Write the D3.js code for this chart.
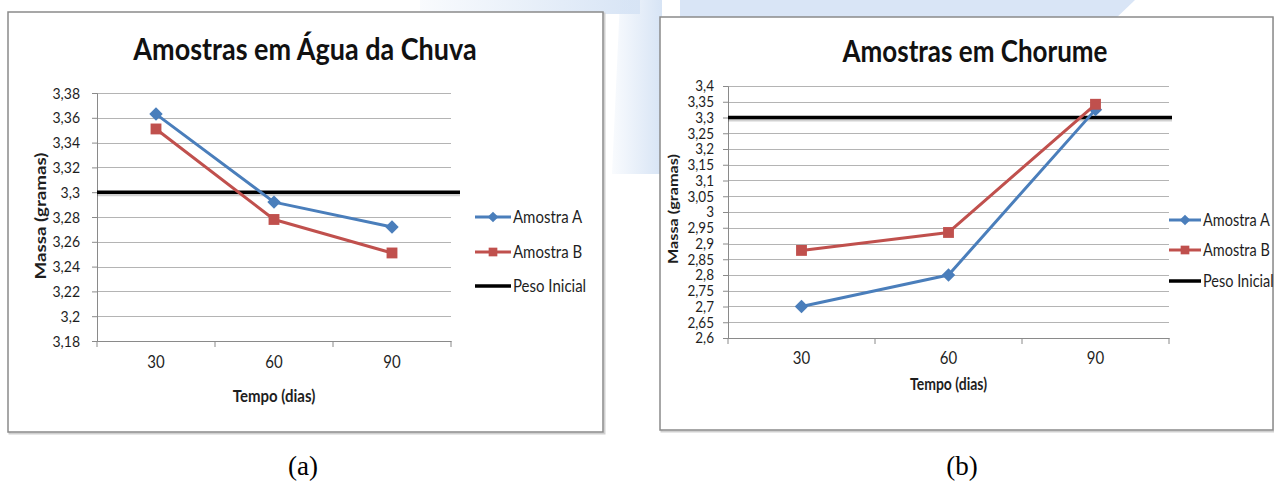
<!DOCTYPE html>
<html><head><meta charset="utf-8">
<script src="https://cdn.jsdelivr.net/npm/d3@7"></script>
<style>
html,body{margin:0;padding:0;background:#fff;}
svg{display:block;}
</style></head>
<body>
<svg id="c" width="1274" height="483"></svg>
<script>
// ---------- DATA ----------
const categories = ["30", "60", "90"];
const seriesNames = ["Amostra A", "Amostra B", "Peso Inicial"];

const chuvaTitle = "Amostras em Água da Chuva";
const chuvaA = [3.363, 3.292, 3.272];
const chuvaB = [3.351, 3.278, 3.251];
const chuvaPeso = 3.30;
const chuvaTicks = [3.18, 3.20, 3.22, 3.24, 3.26, 3.28, 3.30, 3.32, 3.34, 3.36, 3.38];

const chorumeTitle = "Amostras em Chorume";
const chorumeA = [2.70, 2.80, 3.325];
const chorumeB = [2.878, 2.935, 3.342];
const chorumePeso = 3.30;
const chorumeTicks = [2.60, 2.65, 2.70, 2.75, 2.80, 2.85, 2.90, 2.95, 3.00, 3.05, 3.10, 3.15, 3.20, 3.25, 3.30, 3.35, 3.40];

const xTitle = "Tempo (dias)";
const yTitle = "Massa  (gramas)";
const captions = ["(a)", "(b)"];

// ---------- STYLE ----------
const FONT = "Lato, 'Open Sans', sans-serif";
const BLUE = "#4a7ebb";
const RED = "#c0504d";
const SY = 1.15; // vertical stretch of the source image
const svg = d3.select("#c");

// watermark background shapes
const defs = svg.append("defs");
const g1 = defs.append("linearGradient").attr("id", "wm").attr("x1", 0).attr("x2", 1).attr("y1", 0).attr("y2", 0);
g1.append("stop").attr("offset", 0).attr("stop-color", "#d7e4f5").attr("stop-opacity", 0.15);
g1.append("stop").attr("offset", 1).attr("stop-color", "#d7e4f5").attr("stop-opacity", 1);
svg.append("path").attr("d", "M420,0 L640,0 L640,14 L420,14 Z").attr("fill", "url(#wm)");
svg.append("path").attr("d", "M620,0 L662,0 L662,174 L612,174 Z").attr("fill", "url(#wm)");
svg.append("path").attr("d", "M680,0 L1135,0 L1112,22 L680,22 Z").attr("fill", "#d9e5f6");

const fmt = v => String(+v.toFixed(3)).replace(".", ",");

function stretchedText(parent, x, y, size, weight, txt, anchor) {
  return parent.append("text")
    .attr("transform", `translate(${x},${y}) scale(1,${SY})`)
    .attr("text-anchor", anchor || "start").attr("font-family", FONT).attr("font-weight", weight)
    .attr("font-size", size).attr("fill", "#1e1e1e").text(txt);
}

function drawChart(cfg) {
  const g = svg.append("g");
  // frame
  g.append("rect").attr("x", cfg.frame[0] + 1.5).attr("y", cfg.frame[1] + 1.5)
    .attr("width", cfg.frame[2]).attr("height", cfg.frame[3])
    .attr("fill", "none").attr("stroke", "#d0d0d0").attr("stroke-width", 2);
  g.append("rect").attr("x", cfg.frame[0]).attr("y", cfg.frame[1])
    .attr("width", cfg.frame[2]).attr("height", cfg.frame[3])
    .attr("fill", "#fff").attr("stroke", "#8a8a8a").attr("stroke-width", 1.5);

  // title
  stretchedText(g, cfg.titleX, cfg.titleY, cfg.titleSize, 700, cfg.title, "middle").attr("fill", "#111");

  const x = d3.scaleBand().domain(categories).range([cfg.x0, cfg.x1]);
  const y = d3.scaleLinear().domain([cfg.ticks[0], cfg.ticks[cfg.ticks.length - 1]]).range([cfg.yBot, cfg.yTop]);

  // gridlines
  g.append("g").selectAll("line").data(cfg.ticks).join("line")
    .attr("x1", cfg.x0).attr("x2", cfg.x1)
    .attr("y1", d => Math.round(y(d)) + 0.5).attr("y2", d => Math.round(y(d)) + 0.5)
    .attr("stroke", "#b4b4b4").attr("stroke-width", 1);

  // y axis
  const ya = g.append("g").attr("transform", `translate(${cfg.x0},0)`)
    .call(d3.axisLeft(y).tickValues(cfg.ticks).tickFormat(fmt).tickSize(5).tickPadding(cfg.yPad));
  ya.select(".domain").attr("stroke", "#8a8a8a");
  ya.selectAll(".tick line").attr("stroke", "#8a8a8a");
  ya.selectAll("text").attr("font-family", FONT).attr("font-size", cfg.yTickSize).attr("fill", "#1e1e1e")
    .attr("transform", `scale(1,${SY})`);

  // x axis
  const xa = g.append("g").attr("transform", `translate(0,${cfg.yBot})`)
    .call(d3.axisBottom(x).tickSize(0).tickPadding(cfg.xPad));
  xa.select(".domain").attr("stroke", "#8a8a8a");
  xa.selectAll("text").attr("font-family", FONT).attr("font-size", cfg.xTickSize).attr("fill", "#1e1e1e")
    .attr("transform", `scale(1,${SY})`);
  // category boundary tick marks
  const bounds = categories.map(c => x(c)).concat([cfg.x1]);
  g.append("g").selectAll("line").data(bounds).join("line")
    .attr("x1", d => d).attr("x2", d => d).attr("y1", cfg.yBot).attr("y2", cfg.yBot + 6)
    .attr("stroke", "#8a8a8a");

  // axis titles
  stretchedText(g, x("60") + x.bandwidth() / 2, cfg.xTitleY, cfg.axisTitleSize, 700, xTitle, "middle");
  g.append("text").attr("transform", `translate(${cfg.yTitleX},${cfg.yTitleY}) rotate(-90)`)
    .attr("text-anchor", "middle").attr("font-family", FONT).attr("font-weight", 700)
    .attr("font-size", cfg.axisTitleSize).attr("fill", "#1e1e1e")
    .attr("textLength", cfg.yTitleLen).attr("lengthAdjust", "spacingAndGlyphs").text(yTitle);

  // peso inicial line
  const py = y(cfg.peso);
  g.append("line").attr("x1", cfg.x0).attr("x2", cfg.x1 + cfg.pesoExt).attr("y1", py + 2).attr("y2", py + 2)
    .attr("stroke", "#000").attr("stroke-opacity", 0.18).attr("stroke-width", 4);
  g.append("line").attr("x1", cfg.x0).attr("x2", cfg.x1 + cfg.pesoExt).attr("y1", py).attr("y2", py)
    .attr("stroke", "#000").attr("stroke-width", 3.5);

  const cx = c => x(c) + x.bandwidth() / 2;
  const line = d3.line().x((d, i) => cx(categories[i])).y(d => y(d));
  const diamond = d3.symbol().type(d3.symbolDiamond2).size(115);
  const square = d3.symbol().type(d3.symbolSquare2).size(150);

  // series A then B (B on top)
  [[cfg.A, BLUE, diamond], [cfg.B, RED, square]].forEach(([vals, col, sym]) => {
    g.append("path").datum(vals).attr("d", line).attr("fill", "none")
      .attr("stroke", col).attr("stroke-width", 3).attr("stroke-linejoin", "round");
    g.append("g").selectAll("path").data(vals).join("path")
      .attr("transform", (d, i) => `translate(${cx(categories[i])},${y(d)})`)
      .attr("d", sym).attr("fill", col);
  });

  // legend
  const leg = g.append("g");
  const legItems = [[BLUE, diamond], [RED, square], ["#000", null]];
  legItems.forEach(([col, sym], i) => {
    const ly = cfg.legY[i];
    leg.append("line").attr("x1", cfg.legX).attr("x2", cfg.legX + cfg.legLen).attr("y1", ly).attr("y2", ly)
      .attr("stroke", col).attr("stroke-width", sym ? 3 : 3.5);
    if (sym) {
      leg.append("path").attr("transform", `translate(${cfg.legX + cfg.legLen / 2},${ly}) scale(0.8)`)
        .attr("d", sym).attr("fill", col);
    }
    stretchedText(leg, cfg.legX + cfg.legLen + 2, ly + cfg.legSize * 0.35 * SY, cfg.legSize, 400, seriesNames[i]);
  });
}

drawChart({
  frame: [8, 12, 595, 420],
  title: chuvaTitle, titleX: 305, titleY: 60, titleSize: 27,
  x0: 97, x1: 451, yTop: 93, yBot: 341,
  ticks: chuvaTicks, A: chuvaA, B: chuvaB, peso: chuvaPeso, pesoExt: 9,
  yPad: 12, yTickSize: 14, xPad: 13, xTickSize: 15,
  xTitleY: 402, yTitleX: 46, yTitleY: 216, yTitleLen: 127, axisTitleSize: 15,
  legX: 475, legLen: 36, legY: [217, 252, 286], legSize: 15
});

drawChart({
  frame: [660, 17, 613, 413],
  title: chorumeTitle, titleX: 975, titleY: 62, titleSize: 26,
  x0: 728, x1: 1169, yTop: 86, yBot: 338,
  ticks: chorumeTicks, A: chorumeA, B: chorumeB, peso: chorumePeso, pesoExt: 3,
  yPad: 9, yTickSize: 13.5, xPad: 12, xTickSize: 15,
  xTitleY: 390, yTitleX: 678, yTitleY: 209, yTitleLen: 110, axisTitleSize: 14,
  legX: 1169, legLen: 32, legY: [220, 250, 281], legSize: 14.5
});

// captions
svg.selectAll("text.cap").data(captions).join("text").attr("class", "cap")
  .attr("x", (d, i) => [303, 962][i]).attr("y", 475)
  .attr("text-anchor", "middle").attr("font-family", "'Liberation Serif', 'DejaVu Serif', serif")
  .attr("font-size", 27).attr("fill", "#000").text(d => d);
</script>
</body></html>
